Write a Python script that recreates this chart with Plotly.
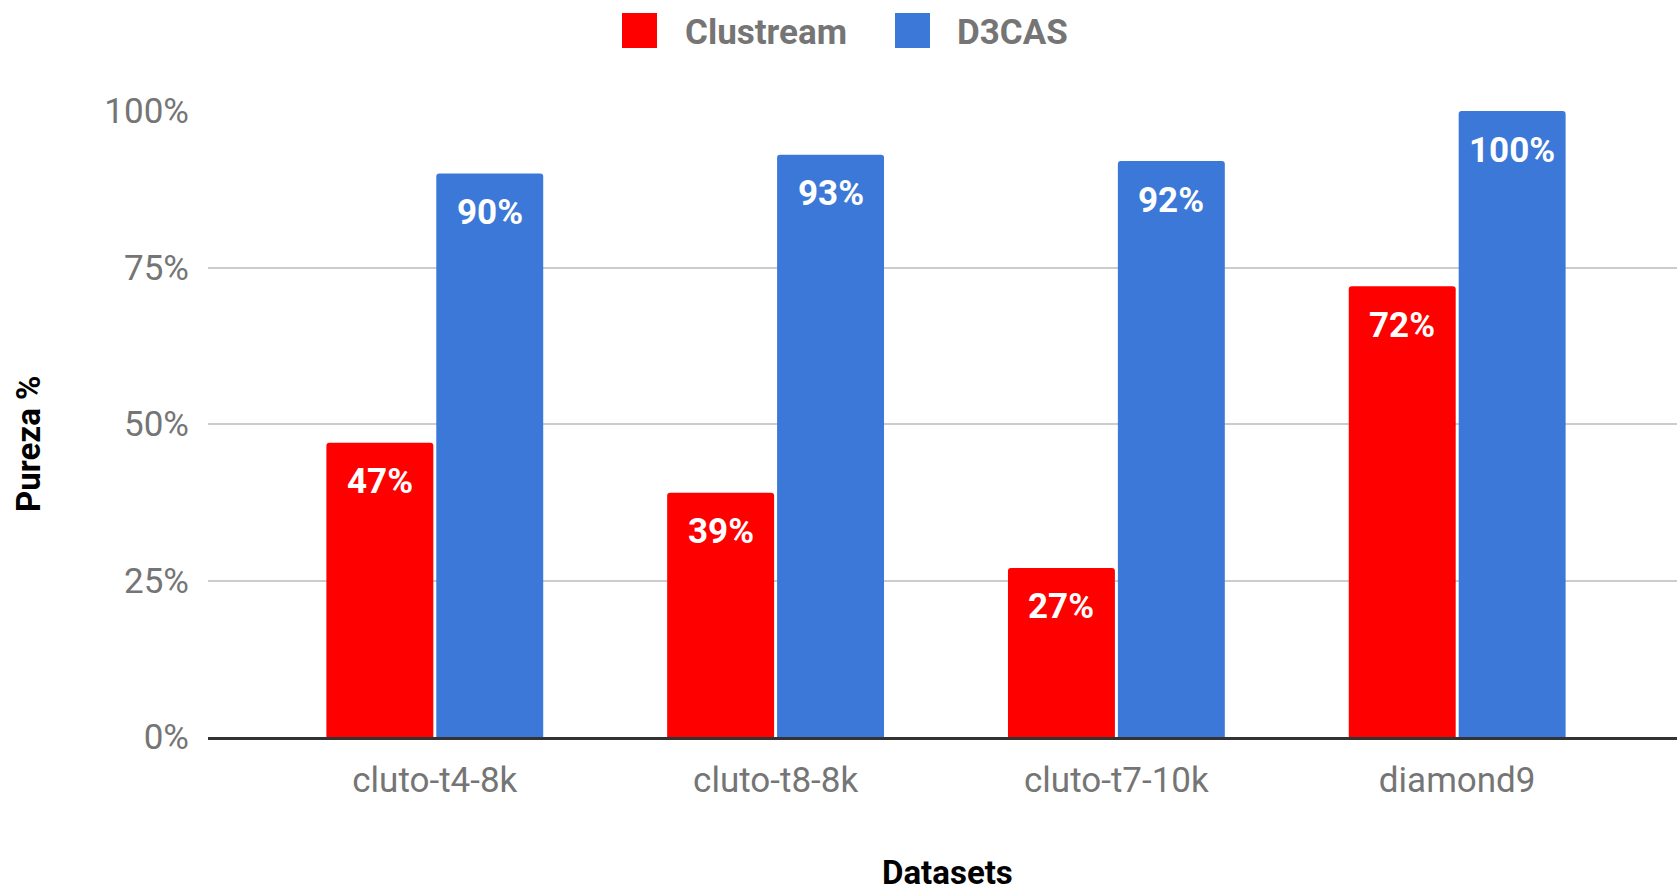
import plotly.graph_objects as go

# Purity per dataset, in percent
datasets = ["cluto-t4-8k", "cluto-t8-8k", "cluto-t7-10k", "diamond9"]
clustream = [47, 39, 27, 72]
d3cas = [90, 93, 92, 100]
series_names = ["Clustream", "D3CAS"]
series_colors = ["#FF0000", "#3C78D8"]
y_ticks = [0, 25, 50, 75, 100]
y_tick_labels = [f"{t}%" for t in y_ticks]

W, H = 1677, 894
ML, MR, MT, MB = 208, 0, 111, 157
PW = W - ML - MR
PH = H - MT - MB
FONT = "Roboto"
FS = 35
GREY = "#757575"


def px_x(px):
    return (px - ML) / PW


def px_y(py):
    return 1 - (py - MT) / PH


fig = go.Figure()
for name, vals, col in zip(series_names, [clustream, d3cas], series_colors):
    fig.add_trace(go.Bar(
        x=datasets, y=vals, name=name,
        marker=dict(color=col, cornerradius=3, line=dict(width=0)),
        showlegend=False, hoverinfo="x+y",
    ))

# value labels inside the top of each bar
slot_px = 110
annotations = []
for vals, shift in [(clustream, -slot_px / 2), (d3cas, slot_px / 2)]:
    for cat, v in zip(datasets, vals):
        annotations.append(dict(
            x=cat, y=v, xref="x", yref="y", text=f"<b>{v}%</b>",
            showarrow=False, xshift=shift, yshift=-39,
            xanchor="center", yanchor="middle",
            font=dict(family=FONT, size=FS, color="white"),
        ))

# axis titles
annotations.append(dict(
    x=px_x(947), y=px_y(894), xref="paper", yref="paper",
    text="<b>Datasets</b>", showarrow=False,
    xanchor="center", yanchor="bottom",
    font=dict(family=FONT, size=FS - 2, color="#000000"),
))
annotations.append(dict(
    x=px_x(28), y=px_y(444), xref="paper", yref="paper",
    text="<b>Pureza %</b>", showarrow=False, textangle=-90,
    xanchor="center", yanchor="middle",
    font=dict(family=FONT, size=FS - 2, color="#000000"),
))

# legend drawn at the top
shapes = []
legend_items = [(622, 683), (895, 955)]
for (sq_x, tx), name, col in zip(legend_items, series_names, series_colors):
    shapes.append(dict(
        type="rect", xref="paper", yref="paper",
        x0=px_x(sq_x), x1=px_x(sq_x + 35), y0=px_y(48), y1=px_y(13),
        fillcolor=col, line=dict(width=0), layer="above",
    ))
    annotations.append(dict(
        x=px_x(tx), y=px_y(32), xref="paper", yref="paper",
        text=f"<b>{name}</b>", showarrow=False,
        xanchor="left", yanchor="middle",
        font=dict(family=FONT, size=FS, color=GREY),
    ))

fig.update_layout(
    width=W, height=H,
    margin=dict(l=ML, r=MR, t=MT, b=MB, pad=0),
    paper_bgcolor="white", plot_bgcolor="white",
    barmode="group", bargap=0.355, bargroupgap=0.027,
    showlegend=False,
    font=dict(family=FONT, size=FS, color=GREY),
    annotations=annotations, shapes=shapes,
    xaxis=dict(
        type="category", range=[-0.6655, 3.645],
        showgrid=False, ticks="", showline=True,
        linecolor="#333333", linewidth=3,
        tickfont=dict(family=FONT, size=FS, color=GREY),
        ticklabelstandoff=10,
    ),
    yaxis=dict(
        range=[0, 100], tickmode="array",
        tickvals=y_ticks, ticktext=y_tick_labels,
        showgrid=True, gridcolor="#CCCCCC", gridwidth=2,
        zeroline=False, showline=False, ticks="",
        tickfont=dict(family=FONT, size=FS, color=GREY),
        ticklabelstandoff=18,
    ),
)

fig.write_html("out.html")
